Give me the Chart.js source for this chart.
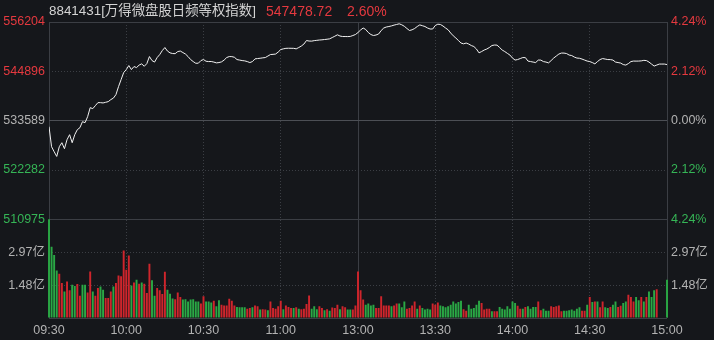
<!DOCTYPE html>
<html>
<head>
<meta charset="utf-8">
<title>8841431 万得微盘股日频等权指数</title>
<script src="https://cdn.jsdelivr.net/npm/chart.js"></script>
<style>
  html, body { margin: 0; padding: 0; background: #15171b; }
  #wrap { position: relative; width: 714px; height: 340px; overflow: hidden; }
  #chart { position: absolute; left: 0; top: 0; }
  .hdr { position: absolute; top: 3px; font: 14px 'Liberation Sans', 'Noto Sans CJK SC', sans-serif; white-space: nowrap; line-height: 16px; }
  #hName { font-size: 13.4px; }
</style>
</head>
<body>
<div id="wrap">
  <canvas id="chart" width="714" height="340"></canvas>
  <div class="hdr" id="hName" style="left:49px;color:#d4d4d4"></div>
  <div class="hdr" id="hPrice" style="left:266px;color:#e5393f"></div>
  <div class="hdr" id="hPct" style="left:347px;color:#e5393f"></div>
</div>
<script>
// header
const indexCode = '8841431';
const indexName = '万得微盘股日频等权指数';
const lastPrice = '547478.72';
const lastPct = '2.60%';

// axes
const timeTicks = [0, 30, 60, 90, 120, 150, 180, 210, 240];
const timeLabels = ['09:30', '10:00', '10:30', '11:00', '13:00', '13:30', '14:00', '14:30', '15:00'];
const prevClose = 533589;
const priceTicks = [510975, 522282, 533589, 544896, 556204];
const volTicks = [0, 1.485, 2.97, 4.455];
const volTickLabels = ['', '1.48亿', '2.97亿', ''];

// one value per minute, 09:30 .. 15:00
const prices = [
  532211, 527619, 526471, 525392, 527619, 528538, 527160, 529227, 530375, 528538,
  530375, 531523, 531982, 533359, 533130, 534507, 536574, 536344, 537033, 537722,
  537722, 537650, 537800, 537951, 538411, 538755, 539559, 541395, 543003, 544610,
  545299, 546217, 545299, 545987, 545758, 546332, 546607, 546056, 546676, 548283,
  547365, 547021, 548054, 548743, 549661, 550350, 549546, 549133, 548972, 548950,
  549431, 549546, 549202, 548857, 548283, 547595, 547135, 546745, 546760, 547365,
  547595, 547204, 547135, 547150, 547021, 546837, 546906, 547067, 547480, 548054,
  548283, 548270, 548123, 547595, 547480, 547365, 547296, 547135, 546906, 547135,
  547755, 547824, 547893, 547985, 548054, 548398, 548743, 548789, 548857, 549317,
  549891, 550051, 550166, 550189, 550180, 550166, 550051, 550350, 550694, 551153,
  551957, 551842, 551819, 551934, 552003, 552072, 552118, 552187, 552255, 552347,
  552646, 552944, 553266, 552990, 552875, 552875, 552860, 552898, 553105, 553335,
  553794, 554368, 554827, 554483, 553794, 553335, 553105, 553220, 553449, 554253,
  554827, 555057, 555171, 555309, 555493, 555631, 555791, 555562, 555217, 554712,
  554253, 554414, 554712, 555171, 555539, 555355, 555171, 554827, 554597, 554597,
  555401, 555699, 555631, 555286, 554827, 554414, 553679, 553036, 552531, 551957,
  551383, 551199, 551383, 551153, 550809, 550579, 550005, 549133, 549431, 549776,
  550005, 550350, 550809, 550924, 550901, 550350, 549776, 549431, 549018, 548628,
  547939, 547480, 547595, 547824, 548054, 548040, 547250, 547135, 547021, 546906,
  547480, 547470, 547135, 547021, 546837, 547365, 547939, 548398, 548857, 549087,
  549080, 548972, 548628, 548513, 548169, 547939, 547893, 547709, 547480, 547250,
  547135, 546906, 546607, 547135, 547595, 547824, 547709, 547595, 547590, 547480,
  547021, 546906, 546791, 546447, 546332, 546676, 547135, 547250, 547240, 547250,
  547296, 547411, 547365, 547021, 546561, 546102, 546332, 546561, 546561, 546561,
  546447
];

// volume per minute, 亿
const volumes = [
  4.6, 3.22, 2.85, 2.14, 2.0, 1.58, 1.2, 1.65, 1.25, 1.5,
  1.45, 1.53, 1.0, 1.5, 1.5, 1.15, 2.1, 1.2, 1.0, 1.35,
  1.42, 1.27, 0.9, 0.9, 1.2, 1.42, 1.58, 1.92, 1.88, 3.05,
  2.18, 2.82, 1.47, 1.6, 1.73, 1.55, 1.6, 1.55, 1.13, 2.45,
  1.7, 1.0, 1.35, 1.25, 1.08, 2.09, 1.28, 1.1, 0.88, 0.85,
  1.15, 0.95, 0.83, 0.85, 0.75, 0.83, 0.85, 0.75, 0.75, 0.65,
  0.98, 0.75, 0.75, 0.7, 0.78, 0.53, 0.8, 0.6, 0.56, 0.56,
  0.87, 0.78, 0.56, 0.5, 0.48, 0.48, 0.48, 0.42, 0.45, 0.48,
  0.56, 0.53, 0.38, 0.4, 0.38, 0.35, 0.75, 0.45, 0.42, 0.53,
  0.78, 0.4, 0.56, 0.5, 0.45, 0.45, 0.48, 0.42, 0.4, 0.42,
  0.63, 1.02, 0.42, 0.53, 0.4, 0.53, 0.45, 0.35, 0.4, 0.33,
  0.47, 0.45, 0.6, 0.4, 0.53, 0.48, 0.38, 0.38, 0.38, 0.56,
  2.1, 1.25, 0.83, 0.6, 0.65, 0.56, 0.6, 0.45, 0.45, 0.98,
  0.56, 0.56, 0.56, 0.53, 0.57, 0.65, 0.65, 0.48, 0.75, 0.42,
  0.45, 0.56, 0.75, 0.42, 0.56, 0.45, 0.38, 0.42, 0.38, 0.65,
  0.6, 0.7, 0.56, 0.53, 0.48, 0.53, 0.6, 0.75, 0.65, 0.72,
  0.78, 0.4, 0.33, 0.6, 0.42, 0.45, 0.6, 0.78, 0.68, 0.38,
  0.42, 0.42, 0.3, 0.3, 0.3, 0.5, 0.42, 0.38, 0.53, 0.42,
  0.75, 0.68, 0.55, 0.42, 0.42, 0.5, 0.53, 0.42, 0.5, 0.5,
  0.75, 0.35, 0.42, 0.33, 0.33, 0.53, 0.5, 0.53, 0.56, 0.3,
  0.33, 0.33, 0.35, 0.38, 0.33, 0.42, 0.48, 0.33, 0.33, 0.6,
  0.95, 0.72, 0.75, 0.75, 0.48, 0.75, 0.48, 0.45, 0.5, 0.6,
  0.75, 0.5, 0.55, 0.68, 0.75, 1.05, 0.95, 0.75, 0.95, 0.8,
  0.95, 0.75, 0.95, 1.2, 0.95, 1.25, 1.3, 0, 0, 0,
  1.73
];

// R = up minute, G = down minute
const upDown =
  'GGGGRRGRRG' + 'GRRGGRRGRR' + 'GGRRRGRRRR' + 'RRGRGRGRRR' +
  'GGRRRRGGGR' + 'RRGGGGGGGR' + 'RGGGRGGRRR' + 'RRRGGGGRRG' +
  'RRGRRGRRRR' + 'RGRRRGRGRR' + 'RRGGGRRGRG' + 'RRRGRRGGRR' +
  'RRRGGGGRRR' + 'RRRGRRGGGR' + 'RRRGRGGGGR' + 'RRGGGGGGGG' +
  'GRRGGGGGRR' + 'RRGRRGGGGG' + 'GGRRGRGGGG' + 'RRGGGRRRRR' +
  'GGGGGGGRRG' + 'RGRGRRGGRG' + 'GRRGGRRRGG' + 'RGRGGGRGGG' + 'G';

document.getElementById('hName').textContent = indexCode + '[' + indexName + ']';
document.getElementById('hPrice').textContent = lastPrice;
document.getElementById('hPct').textContent = lastPct;

const RED = '#e5393f';
const GREEN = '#35b556';
const BAR_RED = '#cf252c';
const BAR_GREEN = '#2aa845';
const GREY = '#b2b2b2';
const FRAME = '#3b3e44';
const ZERO_LINE = '#4c4f55';
const font = { family: "'Liberation Sans', 'Noto Sans CJK SC', sans-serif", size: 12.5 };

function priceColor(v) {
  if (v > prevClose) return RED;
  if (v < prevClose) return GREEN;
  return GREY;
}
function dotted(list) {
  return ctx => (ctx.tick && list.includes(ctx.tick.value)) ? [1, 2] : [];
}

new Chart(document.getElementById('chart'), {
  type: 'bar',
  data: {
    datasets: [
      {
        type: 'line',
        data: prices.map((p, i) => ({ x: i, y: p })),
        xAxisID: 'x',
        yAxisID: 'y',
        borderColor: '#f0f0f0',
        borderWidth: 1,
        pointRadius: 0,
        tension: 0
      },
      {
        type: 'bar',
        data: volumes.map((v, i) => ({ x: i, y: v })),
        xAxisID: 'x',
        yAxisID: 'yVol',
        backgroundColor: volumes.map((v, i) => upDown[i] === 'R' ? BAR_RED : BAR_GREEN),
        barPercentage: 0.75,
        categoryPercentage: 1,
        // let the first and last bar show whole at the frame, but cut the opening bar at the panel top
        clip: { left: 2, right: 2, top: 0, bottom: 0 }
      }
    ]
  },
  options: {
    responsive: false,
    animation: false,
    layout: { padding: { top: 22, left: 0, right: 0, bottom: 0 } },
    plugins: { legend: { display: false }, tooltip: { enabled: false } },
    scales: {
      x: {
        type: 'linear',
        min: 0,
        max: 240,
        offset: false,
        afterBuildTicks: s => { s.ticks = timeTicks.map(v => ({ value: v })); },
        afterFit: s => { s.height = 22; },
        ticks: {
          callback: (v, i) => timeLabels[i],
          color: GREY,
          font: font,
          padding: 5,
          maxRotation: 0,
          autoSkip: false
        },
        grid: { color: FRAME, drawTicks: false, offset: false },
        border: { display: false, dash: ctx => [0, 4, 8].includes(ctx.index) ? [] : [1, 2] }
      },
      yVol: {
        position: 'left',
        stack: 'left',
        stackWeight: 1,
        min: 0,
        max: volTicks[3],
        afterBuildTicks: s => { s.ticks = volTicks.map(v => ({ value: v })); },
        afterFit: s => { s.width = 49; },
        ticks: { callback: (v, i) => volTickLabels[i], color: GREY, font: font, padding: 4, autoSkip: false },
        grid: { color: FRAME, drawTicks: false },
        border: { display: false, dash: dotted([volTicks[1], volTicks[2]]) }
      },
      y: {
        position: 'left',
        stack: 'left',
        stackWeight: 2,
        min: priceTicks[0],
        max: priceTicks[4],
        afterBuildTicks: s => { s.ticks = priceTicks.map(v => ({ value: v })); },
        afterFit: s => { s.width = 49; },
        ticks: { callback: v => String(v), color: ctx => priceColor(ctx.tick.value), font: font, padding: 4, autoSkip: false },
        grid: { color: ctx => ctx.tick && ctx.tick.value === prevClose ? ZERO_LINE : FRAME, drawTicks: false },
        border: { display: false, dash: dotted([priceTicks[1], priceTicks[3]]) }
      },
      pct: {
        position: 'right',
        stack: 'right',
        stackWeight: 2,
        min: priceTicks[0],
        max: priceTicks[4],
        afterBuildTicks: s => { s.ticks = priceTicks.map(v => ({ value: v })); },
        afterFit: s => { s.width = 47; },
        ticks: {
          callback: v => (Math.abs(v - prevClose) / prevClose * 100).toFixed(2) + '%',
          color: ctx => priceColor(ctx.tick.value),
          font: font,
          padding: 4,
          autoSkip: false
        },
        grid: { display: false, drawTicks: false },
        border: { display: false }
      },
      volR: {
        position: 'right',
        stack: 'right',
        stackWeight: 1,
        min: 0,
        max: volTicks[3],
        afterBuildTicks: s => { s.ticks = volTicks.map(v => ({ value: v })); },
        afterFit: s => { s.width = 47; },
        ticks: { callback: (v, i) => volTickLabels[i], color: GREY, font: font, padding: 4, autoSkip: false },
        grid: { display: false, drawTicks: false },
        border: { display: false }
      }
    }
  }
});
</script>
</body>
</html>
